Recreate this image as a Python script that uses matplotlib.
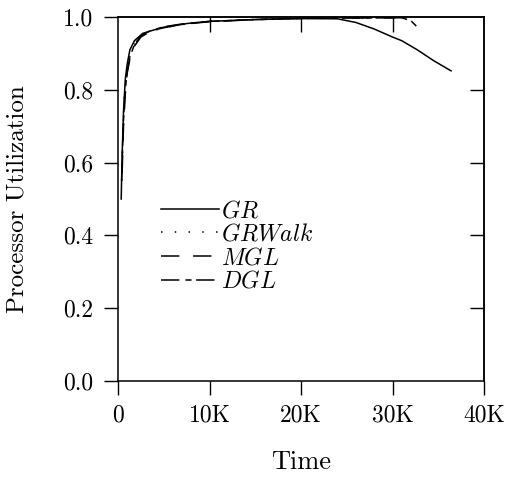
import matplotlib
matplotlib.use("Agg")
import matplotlib.pyplot as plt

plt.rcParams["font.family"] = "cmr10"
plt.rcParams["mathtext.fontset"] = "cm"
plt.rcParams["axes.formatter.use_mathtext"] = True

# ── data (time in K, utilization) ───────────────────────────────────────────
gr_t = [0.35, 0.45, 0.6, 0.8, 1.0, 1.3, 1.8, 2.7, 4.0, 5.3, 7.5, 10, 15, 20, 24, 26, 28, 30, 31, 32.7, 34.5, 36.4]
gr_u = [0.50, 0.62, 0.74, 0.83, 0.87, 0.91, 0.935, 0.955, 0.965, 0.972, 0.982, 0.988, 0.993, 0.996, 0.995, 0.985, 0.967, 0.945, 0.935, 0.91, 0.88, 0.852]

walk_t = [0.4, 0.55, 0.7, 0.9, 1.2, 1.6, 2.2, 3.0, 4.5, 6.0, 8, 10, 15, 20, 25, 31]
walk_u = [0.55, 0.68, 0.78, 0.84, 0.885, 0.915, 0.94, 0.955, 0.967, 0.975, 0.983, 0.988, 0.993, 0.996, 0.997, 0.998]

mgl_t = [0.45, 0.6, 0.8, 1.0, 1.3, 1.8, 2.5, 3.5, 5.0, 7.0, 10, 15, 20, 25, 31.5]
mgl_u = [0.57, 0.70, 0.79, 0.845, 0.885, 0.92, 0.945, 0.96, 0.972, 0.98, 0.987, 0.993, 0.996, 0.997, 0.998]

dgl_t = [0.4, 0.55, 0.75, 1.0, 1.3, 1.8, 2.5, 3.5, 5.0, 7.0, 10, 15, 20, 25, 31.0, 32.0, 32.6]
dgl_u = [0.55, 0.69, 0.79, 0.85, 0.89, 0.925, 0.948, 0.962, 0.973, 0.981, 0.988, 0.993, 0.996, 0.997, 0.998, 0.99, 0.975]

x_ticks = [0, 10, 20, 30, 40]
x_labels = ["0", "10K", "20K", "30K", "40K"]
y_ticks = [0.0, 0.2, 0.4, 0.6, 0.8, 1.0]

fig = plt.figure(figsize=(5.12, 4.79), dpi=100)
ax = fig.add_axes([118 / 512, 98 / 479, 366 / 512, 364 / 479])

ax.plot(gr_t, gr_u, color="black", linewidth=1.1, linestyle="-", label="$GR$")
ax.plot(walk_t, walk_u, color="black", linewidth=1.1, linestyle=(0, (1, 8)), label="$GRWalk$")
ax.plot(mgl_t, mgl_u, color="black", linewidth=1.1, linestyle=(0, (12, 9)), label="$MGL$")
ax.plot(dgl_t, dgl_u, color="black", linewidth=1.1, linestyle=(0, (12, 4, 4, 3)), label="$DGL$")

ax.set_xlim(0, 40)
ax.set_ylim(0, 1.0)
ax.set_xticks(x_ticks)
ax.set_xticklabels(x_labels)
ax.set_yticks(y_ticks)
ax.set_yticklabels([f"{v:.1f}" for v in y_ticks])
# outward ticks on left / bottom, inward ticks on top / right
ax.tick_params(direction="out", length=10, width=1, labelsize=17)
ax.tick_params(axis="x", pad=7)
ax.tick_params(axis="y", pad=8)
top = ax.secondary_xaxis("top")
top.set_xticks(x_ticks[1:-1])
top.tick_params(direction="in", length=10.5, width=1, labeltop=False)
right = ax.secondary_yaxis("right")
right.set_yticks(y_ticks[1:-1])
right.tick_params(direction="in", length=10, width=1, labelright=False)
for a in (ax, top, right):
    for s in a.spines.values():
        s.set_linewidth(1.1)

ax.set_xlabel("Time", fontsize=19)
ax.xaxis.set_label_coords(0.5, -0.19)
ax.set_ylabel("Processor Utilization", fontsize=18)
ax.yaxis.set_label_coords(-0.245, 0.5)

ax.legend(loc="upper left", bbox_to_anchor=(0.118, 0.497), frameon=False,
          fontsize=17, handlelength=2.45, handletextpad=0.1, labelspacing=0.06,
          borderpad=0, borderaxespad=0)

fig.savefig("out.png", dpi=100)
